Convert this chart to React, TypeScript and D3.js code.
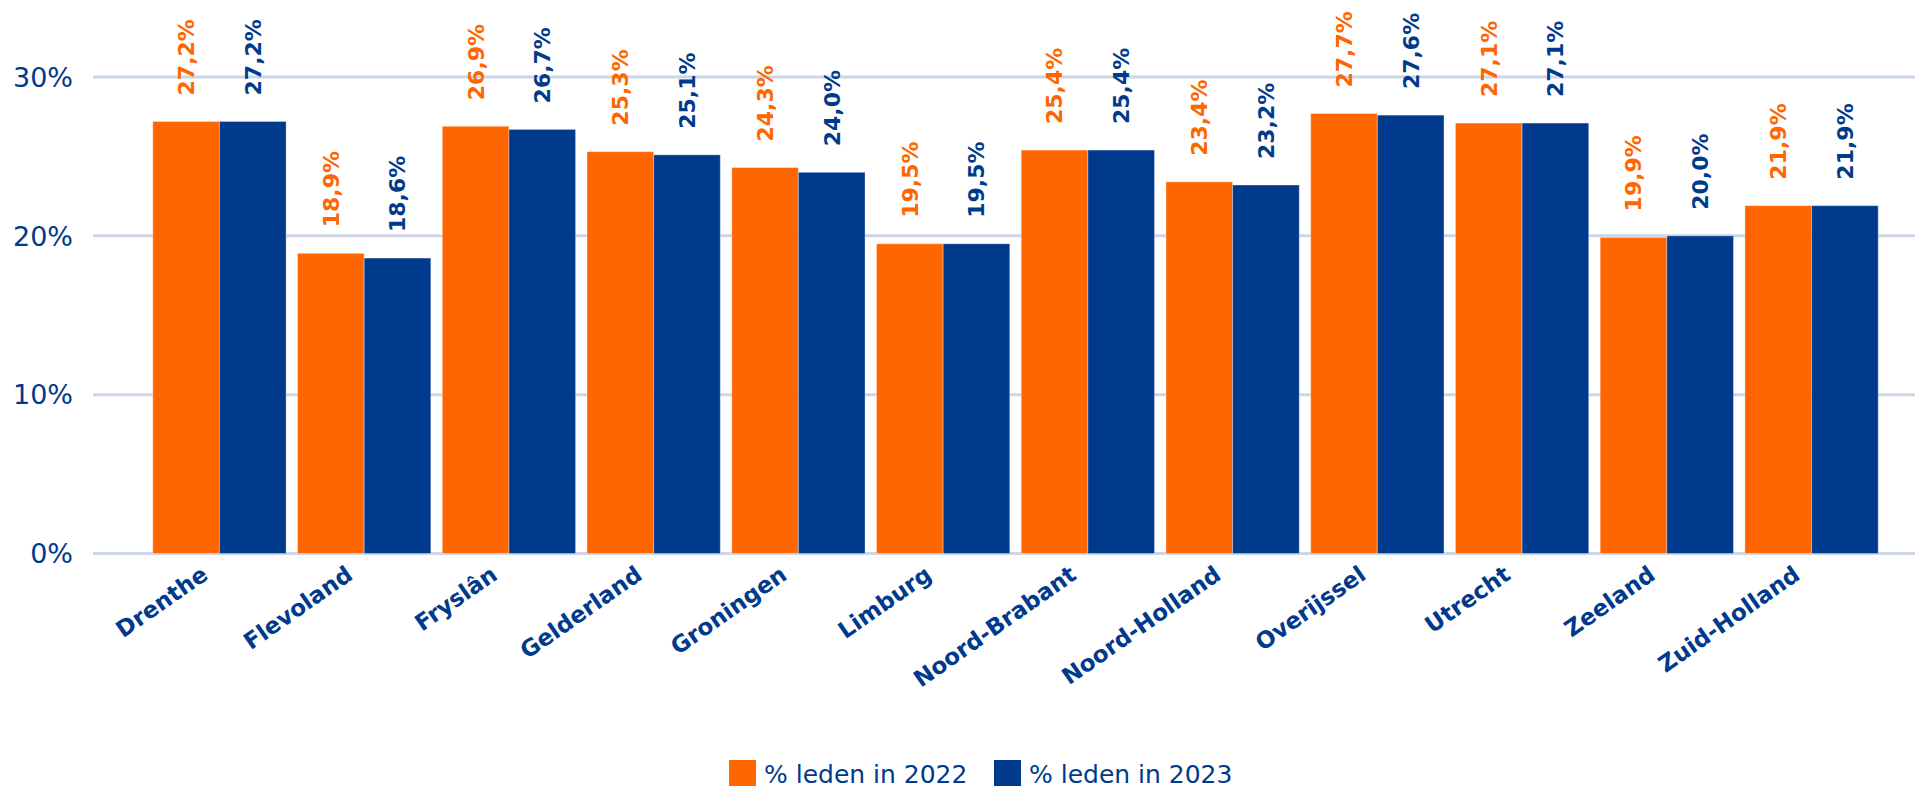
import { useEffect, useRef } from 'react';
import * as d3 from 'd3';

const provinces = [
  'Drenthe', 'Flevoland', 'Fryslân', 'Gelderland', 'Groningen', 'Limburg',
  'Noord-Brabant', 'Noord-Holland', 'Overijssel', 'Utrecht', 'Zeeland', 'Zuid-Holland',
];
const leden2022 = [27.2, 18.9, 26.9, 25.3, 24.3, 19.5, 25.4, 23.4, 27.7, 27.1, 19.9, 21.9];
const leden2023 = [27.2, 18.6, 26.7, 25.1, 24.0, 19.5, 25.4, 23.2, 27.6, 27.1, 20.0, 21.9];
const yTicks = [0, 10, 20, 30];
const seriesNames = ['% leden in 2022', '% leden in 2023'];

const ORANGE = '#ff6600';
const BLUE = '#003a8c';
const GRID = '#ccd6e6';
const FONT = '"DejaVu Sans", Verdana, sans-serif';

export default function App() {
  const svgRef = useRef<SVGSVGElement>(null);

  useEffect(() => {
    if (!svgRef.current) return;
    const width = 1917;
    const height = 786;

    const svg = d3.select(svgRef.current);
    svg.selectAll('*').remove();
    svg.attr('width', width).attr('height', height);

    const x0 = d3.scaleBand()
      .domain(provinces)
      .range([147, 1884])
      .paddingInner(0.079)
      .paddingOuter(0.04);

    const x1 = d3.scaleBand()
      .domain(['2022', '2023'])
      .range([0, x0.bandwidth()]);

    const y = d3.scaleLinear().domain([0, 30]).range([553.5, 77]);

    // gridlines
    svg.append('g')
      .selectAll('line')
      .data(yTicks)
      .join('line')
      .attr('x1', 93)
      .attr('x2', 1915)
      .attr('y1', d => y(d))
      .attr('y2', d => y(d))
      .attr('stroke', GRID)
      .attr('stroke-width', 3);

    svg.append('g')
      .selectAll('text')
      .data(yTicks)
      .join('text')
      .attr('x', 73)
      .attr('y', d => y(d))
      .attr('dy', '0.36em')
      .attr('text-anchor', 'end')
      .style('font-family', FONT)
      .style('font-size', '27px')
      .style('fill', BLUE)
      .text(d => `${d}%`);

    const rows = provinces.map((p, i) => ({
      province: p,
      values: [
        { key: '2022', value: leden2022[i], color: ORANGE },
        { key: '2023', value: leden2023[i], color: BLUE },
      ],
    }));

    const groups = svg.append('g')
      .selectAll('g')
      .data(rows)
      .join('g')
      .attr('transform', d => `translate(${x0(d.province)},0)`);

    groups.selectAll('rect')
      .data(d => d.values)
      .join('rect')
      .attr('x', d => x1(d.key) || 0)
      .attr('y', d => y(d.value))
      .attr('width', x1.bandwidth())
      .attr('height', d => y(0) - y(d.value))
      .attr('fill', d => d.color)
      .attr('stroke', '#ffffff')
      .attr('stroke-opacity', 0.35)
      .attr('stroke-width', 1);

    groups.selectAll('text')
      .data(d => d.values)
      .join('text')
      .attr('transform', d => `translate(${(x1(d.key) || 0) + x1.bandwidth() / 2},${y(d.value) - 26}) rotate(-90)`)
      .attr('dy', '0.36em')
      .attr('text-anchor', 'start')
      .style('font-family', FONT)
      .style('font-size', '22px')
      .style('font-weight', 'bold')
      .style('fill', d => d.color)
      .text(d => `${d.value.toFixed(1).replace('.', ',')}%`);

    // category labels
    svg.append('g')
      .selectAll('text')
      .data(provinces)
      .join('text')
      .attr('transform', d => `translate(${(x0(d) || 0) + x0.bandwidth() / 2 - 10},${578}) rotate(-35)`)
      .attr('text-anchor', 'end')
      .style('font-family', FONT)
      .style('font-size', '23px')
      .style('font-weight', 'bold')
      .style('fill', BLUE)
      .text(d => d);

    // legend
    const legend = svg.append('g');
    const legendX = [729, 994];
    seriesNames.forEach((name, i) => {
      const item = legend.append('g').attr('transform', `translate(${legendX[i]},760)`);
      item.append('rect')
        .attr('width', 27)
        .attr('height', 27)
        .attr('fill', i === 0 ? ORANGE : BLUE);
      item.append('text')
        .attr('x', 35)
        .attr('y', 23)
        .style('font-family', FONT)
        .style('font-size', '25px')
        .style('fill', BLUE)
        .text(name);
    });
  }, []);

  return (
    <div style={{ position: 'absolute', left: 0, top: 0 }}>
      <svg ref={svgRef}></svg>
    </div>
  );
}
